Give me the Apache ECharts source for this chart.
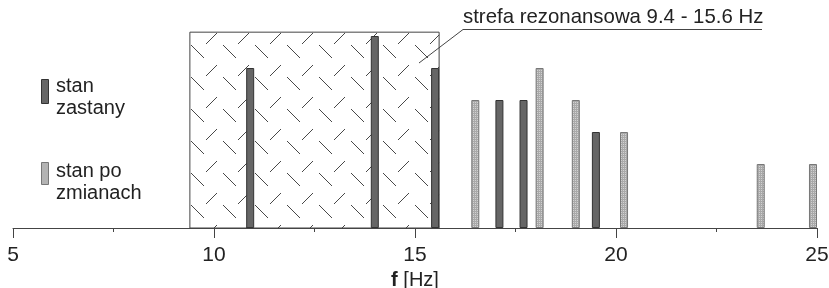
<!DOCTYPE html>
<html>
<head>
<meta charset="utf-8">
<script src="https://cdn.jsdelivr.net/npm/echarts@6/dist/echarts.min.js"></script>
<style>
  html, body { margin: 0; padding: 0; background: #fff; }
  #chart { width: 829px; height: 288px; }
</style>
</head>
<body>
<div id="chart"></div>
<script>
// dane
const freqZastany = [10.9, 14.0, 15.5, 17.1, 17.7, 19.5];
const valZastany = [5, 6, 5, 4, 4, 3];
const freqPoZmianach = [16.5, 18.1, 19.0, 20.2, 23.6, 24.9];
const valPoZmianach = [4, 5, 4, 3, 2, 2];
const strefaRez = [9.4, 15.6];
const seriesNames = ['stan\nzastany', 'stan po\nzmianach'];
const annotation = 'strefa rezonansowa 9.4 - 15.6 Hz';

const FONT = '"Liberation Sans", Arial, sans-serif';
const DARK = '#666666';

// kreskowanie strefy rezonansowej
function hatchTile() {
  const w = 32, h = 32;
  const c = document.createElement('canvas');
  c.width = w; c.height = h;
  const ctx = c.getContext('2d');
  ctx.strokeStyle = '#333';
  ctx.lineWidth = 0.9;
  const ox = 189 % w, oy = 32 % h;
  const segs = [
    [2, 13, 15, 26],   // "\"
    [17, 12, 28, 1]    // "/"
  ];
  for (const s of segs) {
    for (let dx = -w; dx <= w; dx += w) {
      for (let dy = -h; dy <= h; dy += h) {
        ctx.beginPath();
        ctx.moveTo(s[0] + ox + dx, s[1] + oy + dy);
        ctx.lineTo(s[2] + ox + dx, s[3] + oy + dy);
        ctx.stroke();
      }
    }
  }
  return c;
}

// wypełnienie jasnych słupków
function lightTile() {
  const c = document.createElement('canvas');
  c.width = 2; c.height = 2;
  const ctx = c.getContext('2d');
  ctx.fillStyle = '#d2d2d2';
  ctx.fillRect(0, 0, 2, 2);
  ctx.fillStyle = '#a9a9a9';
  ctx.fillRect(0, 1, 2, 1);
  ctx.fillRect(0, 0, 1, 1);
  return c;
}

const lightFill = { image: lightTile(), repeat: 'repeat' };

function pairs(xs, ys) {
  return xs.map((x, i) => [x, ys[i]]);
}

const chart = echarts.init(document.getElementById('chart'), null, { renderer: 'canvas' });

const option = {
  animation: false,
  textStyle: { fontFamily: FONT },
  grid: { left: 13, right: 12, top: 4, bottom: 60, outerBoundsMode: 'none', containLabel: false },
  xAxis: {
    type: 'value',
    min: 5,
    max: 25,
    interval: 5,
    name: '{b|f} [Hz]',
    nameLocation: 'middle',
    nameGap: 32,
    nameTextStyle: {
      fontSize: 20, color: '#222', fontFamily: FONT,
      rich: { b: { fontWeight: 'bold', fontSize: 20, color: '#222', fontFamily: FONT } }
    },
    axisLine: { lineStyle: { color: '#444', width: 1 } },
    axisTick: { length: 10, lineStyle: { color: '#444' } },
    minorTick: { show: true, splitNumber: 2, length: 4, lineStyle: { color: '#444' } },
    splitLine: { show: false },
    axisLabel: { fontSize: 21, color: '#222', margin: 17, fontFamily: FONT }
  },
  yAxis: {
    type: 'value',
    min: 0,
    max: 7,
    show: false
  },
  series: [
    {
      name: seriesNames[0],
      type: 'bar',
      barWidth: 8,
      barGap: '-100%',
      z: 2,
      itemStyle: { color: DARK, borderColor: '#333', borderWidth: 1 },
      data: pairs(freqZastany, valZastany)
    },
    {
      name: seriesNames[1],
      type: 'bar',
      barWidth: 8,
      barGap: '-100%',
      z: 2,
      itemStyle: { color: lightFill, borderColor: '#777', borderWidth: 1 },
      data: pairs(freqPoZmianach, valPoZmianach)
    },
    {
      // strefa rezonansowa nad słupkami
      type: 'line',
      z: 5,
      data: [],
      markArea: {
        silent: true,
        itemStyle: {
          color: { image: hatchTile(), repeat: 'repeat' },
          borderColor: '#444',
          borderWidth: 1
        },
        data: [[{ xAxis: strefaRez[0], yAxis: 0 }, { xAxis: strefaRez[1], yAxis: 6.12 }]]
      }
    }
  ],
  graphic: [
    // legenda
    { type: 'rect', left: 41, top: 79, shape: { width: 7, height: 24 },
      style: { fill: DARK, stroke: '#333', lineWidth: 1 } },
    { type: 'text', left: 56, top: 75,
      style: { text: seriesNames[0], font: '20px ' + FONT, fill: '#222', lineHeight: 22 } },
    { type: 'rect', left: 41, top: 162, shape: { width: 7, height: 22 },
      style: { fill: lightFill, stroke: '#777', lineWidth: 1 } },
    { type: 'text', left: 56, top: 160,
      style: { text: seriesNames[1], font: '20px ' + FONT, fill: '#222', lineHeight: 22.5 } },
    // opis strefy
    { type: 'text', left: 463, top: 7,
      style: { text: annotation, font: '20.4px ' + FONT, fill: '#222' } },
    { type: 'line', shape: { x1: 463, y1: 29.5, x2: 762, y2: 29.5 },
      style: { stroke: '#444', lineWidth: 1 } },
    { type: 'line', shape: { x1: 463, y1: 29.5, x2: 419, y2: 63 },
      style: { stroke: '#444', lineWidth: 1 } }
  ]
};

chart.setOption(option);
</script>
</body>
</html>
